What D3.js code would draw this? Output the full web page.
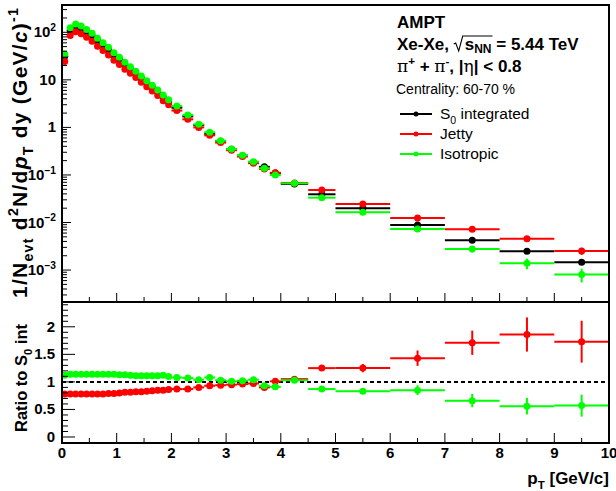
<!DOCTYPE html>
<html>
<head>
<meta charset="utf-8">
<script src="https://cdn.jsdelivr.net/npm/d3@7"></script>
<style>
body { margin: 0; background: #fff; }
svg { display: block; font-family: "Liberation Sans", Arial, sans-serif; }
text { white-space: pre; }
</style>
</head>
<body>
<div id="chart"></div>
<script>
// pT bin edges (GeV/c)
const binEdges = [0, 0.1, 0.2, 0.3, 0.4, 0.5, 0.6, 0.7, 0.8, 0.9, 1.0, 1.1, 1.2, 1.3, 1.4, 1.5, 1.6, 1.7, 1.8, 1.9, 2.0,
    2.2, 2.4, 2.6, 2.8, 3.0, 3.2, 3.4, 3.6, 3.8, 4.0, 4.5, 5, 6, 7, 8, 9, 10];

// spectra, 1/Nevt d2N/dpTdy
const s0Integrated = [31.3, 109.6, 131.6, 119.3, 100.9, 83.3, 65.4, 53.1, 42.4, 32.7, 26.4, 20.7, 16.9, 13.6, 10.8, 8.65, 6.91, 5.51, 4.29, 3.48,
    2.60, 1.70, 1.115, 0.731, 0.510, 0.348, 0.254, 0.183, 0.148, 0.1096, 0.0648, 0.0392, 0.0199, 0.00886, 0.00422, 0.00248, 0.00146];
const jetty = [24.4, 85.5, 102.6, 93.1, 78.7, 65.0, 51.0, 41.4, 33.5, 25.8, 21.1, 16.8, 13.7, 11.2, 8.86, 7.18, 5.80, 4.68, 3.65, 2.99,
    2.26, 1.48, 1.00, 0.680, 0.479, 0.331, 0.244, 0.177, 0.133, 0.111, 0.068, 0.0482, 0.0245, 0.01245, 0.0072, 0.00456, 0.00251];
const isotropic = [35.0, 125, 150, 136, 115, 95, 74.6, 60.5, 48.3, 37.3, 29.8, 23.4, 18.9, 15.1, 12.0, 9.6, 7.67, 6.12, 4.80, 3.83,
    2.81, 1.82, 1.16, 0.79, 0.525, 0.351, 0.259, 0.190, 0.138, 0.0997, 0.0667, 0.0333, 0.0164, 0.0073, 0.00277, 0.00139, 0.00081];

// relative stat. errors of the spectra
const s0RelErr = [0.005, 0.005, 0.005, 0.005, 0.005, 0.005, 0.005, 0.005, 0.005, 0.005, 0.005, 0.005, 0.005, 0.005, 0.005, 0.005, 0.005, 0.005, 0.005, 0.005,
    0.008, 0.008, 0.008, 0.01, 0.01, 0.01, 0.012, 0.012, 0.015, 0.015, 0.015, 0.02, 0.03, 0.04, 0.06, 0.08, 0.10];
const jettyRelErr = [0.005, 0.005, 0.005, 0.005, 0.005, 0.005, 0.005, 0.005, 0.005, 0.005, 0.005, 0.005, 0.005, 0.005, 0.005, 0.005, 0.005, 0.005, 0.005, 0.005,
    0.01, 0.01, 0.01, 0.012, 0.012, 0.015, 0.015, 0.015, 0.02, 0.02, 0.02, 0.025, 0.04, 0.06, 0.09, 0.12, 0.17];
const isotropicRelErr = [0.005, 0.005, 0.005, 0.005, 0.005, 0.005, 0.005, 0.005, 0.005, 0.005, 0.005, 0.005, 0.005, 0.005, 0.005, 0.005, 0.005, 0.005, 0.005, 0.005,
    0.01, 0.01, 0.01, 0.012, 0.012, 0.015, 0.015, 0.015, 0.02, 0.02, 0.02, 0.03, 0.05, 0.08, 0.15, 0.25, 0.32];

// ratios to S0 integrated
const jettyRatio = [0.78, 0.78, 0.78, 0.78, 0.78, 0.78, 0.78, 0.78, 0.79, 0.79, 0.80, 0.81, 0.81, 0.82, 0.82, 0.83, 0.84, 0.85, 0.85, 0.86,
    0.87, 0.87, 0.90, 0.93, 0.94, 0.95, 0.96, 0.97, 0.90, 1.01, 1.05, 1.25, 1.25, 1.43, 1.71, 1.86, 1.73];
const jettyRatioErr = [0.005, 0.005, 0.005, 0.005, 0.005, 0.005, 0.005, 0.005, 0.005, 0.005, 0.005, 0.005, 0.005, 0.005, 0.005, 0.005, 0.005, 0.005, 0.005, 0.01,
    0.01, 0.01, 0.01, 0.012, 0.012, 0.015, 0.015, 0.015, 0.02, 0.02, 0.02, 0.03, 0.075, 0.14, 0.22, 0.31, 0.38];
const isotropicRatio = [1.12, 1.14, 1.14, 1.14, 1.14, 1.14, 1.14, 1.14, 1.14, 1.14, 1.13, 1.13, 1.12, 1.11, 1.11, 1.11, 1.11, 1.11, 1.12, 1.10,
    1.08, 1.07, 1.04, 1.08, 1.03, 1.01, 1.02, 1.04, 0.93, 0.91, 1.03, 0.87, 0.83, 0.85, 0.66, 0.56, 0.57];
const isotropicRatioErr = [0.005, 0.005, 0.005, 0.005, 0.005, 0.005, 0.005, 0.005, 0.005, 0.005, 0.005, 0.005, 0.005, 0.005, 0.005, 0.005, 0.005, 0.005, 0.005, 0.01,
    0.01, 0.01, 0.01, 0.012, 0.012, 0.015, 0.015, 0.015, 0.02, 0.02, 0.02, 0.03, 0.05, 0.09, 0.12, 0.15, 0.20];

const seriesNames = ['S0 integrated', 'Jetty', 'Isotropic'];
const seriesColors = ['#000000', '#ff0000', '#00ff00'];

const W = 616, H = 491;
const xLeft = 62, xRight = 609;
const topY = 5, midY = 302, botY = 443;

const svg = d3.select('#chart').append('svg')
    .attr('width', W)
    .attr('height', H)
    .attr('viewBox', [0, 0, W, H]);

const x = d3.scaleLinear().domain([0, 10]).range([xLeft, xRight]);
const yTop = d3.scaleLog().domain([2.13e-4, 375]).range([midY, topY]);
const yRat = d3.scaleLinear().domain([-0.109, 2.45]).range([botY, midY]);

// rich text helper: parts = [text, 'sub'|'sup'|null, 'i'|'g'|null]
function rich(sel, parts, size) {
    let shift = 0;
    parts.forEach(([str, kind, style]) => {
        const target = kind === 'sub' ? size * 0.3 : kind === 'sup' ? -size * 0.42 : 0;
        const t = sel.append('tspan').text(str).attr('dy', target - shift);
        if (kind) t.attr('font-size', size * 0.68);
        if (style === 'i') t.attr('font-style', 'italic');
        if (style === 'g') t.attr('font-family', '"DejaVu Serif", "Liberation Serif", serif').attr('font-weight', 'normal');
        shift = target;
    });
    return sel;
}

const bins = binEdges.slice(0, -1).map((lo, i) => ({lo: lo, hi: binEdges[i + 1], c: (lo + binEdges[i + 1]) / 2}));

function drawPoints(g, y, values, errs, color, absErr) {
    const pts = bins.map((b, i) => ({...b, v: values[i], e: absErr ? errs[i] : errs[i] * values[i]}));
    const grp = g.append('g').attr('stroke', color).attr('fill', color);
    grp.selectAll('line.h').data(pts).join('line')
        .attr('class', 'h')
        .attr('x1', d => x(d.lo)).attr('x2', d => x(d.hi))
        .attr('y1', d => y(d.v)).attr('y2', d => y(d.v))
        .attr('stroke-width', 2);
    grp.selectAll('line.v').data(pts).join('line')
        .attr('class', 'v')
        .attr('x1', d => x(d.c)).attr('x2', d => x(d.c))
        .attr('y1', d => y(d.v - d.e)).attr('y2', d => y(d.v + d.e))
        .attr('stroke-width', 2);
    grp.selectAll('circle').data(pts).join('circle')
        .attr('cx', d => x(d.c)).attr('cy', d => y(d.v))
        .attr('r', 3.5).attr('stroke', 'none');
}

// ---------- top panel ----------
const topPanel = svg.append('g').attr('id', 'top');
svg.append('clipPath').attr('id', 'clipTop')
    .append('rect').attr('x', xLeft).attr('y', topY).attr('width', xRight - xLeft).attr('height', midY - topY);
const topData = topPanel.append('g').attr('clip-path', 'url(#clipTop)');
drawPoints(topData, yTop, s0Integrated, s0RelErr, seriesColors[0], false);
drawPoints(topData, yTop, jetty, jettyRelErr, seriesColors[1], false);
drawPoints(topData, yTop, isotropic, isotropicRelErr, seriesColors[2], false);

// log y ticks
const logTicks = yTop.ticks();
const isDecade = d => Math.abs(Math.log10(d) - Math.round(Math.log10(d))) < 1e-6;
topPanel.append('g').selectAll('line').data(logTicks).join('line')
    .attr('x1', xLeft)
    .attr('x2', d => isDecade(d) ? xLeft + 9 : xLeft + 5)
    .attr('y1', d => yTop(d)).attr('y2', d => yTop(d))
    .attr('stroke', '#000').attr('stroke-width', 1);
logTicks.filter(isDecade).forEach(d => {
    const e = Math.round(Math.log10(d));
    const t = topPanel.append('text')
        .attr('x', 56).attr('y', yTop(d) + 5)
        .attr('text-anchor', 'end')
        .attr('font-size', 15).attr('font-weight', 'bold');
    if (e === 0) t.text('1');
    else if (e === 1) t.text('10');
    else rich(t, [['10', null], [e < 0 ? '\u2212' + (-e) : String(e), 'sup']], 15);
});

// x ticks top panel (no labels)
const xMinor = d3.range(0, 10.01, 0.5);
topPanel.append('g').selectAll('line').data(xMinor).join('line')
    .attr('x1', d => x(d)).attr('x2', d => x(d))
    .attr('y1', midY)
    .attr('y2', d => d % 1 === 0 ? midY - 9 : midY - 5)
    .attr('stroke', '#000').attr('stroke-width', 1);

topPanel.append('rect')
    .attr('x', xLeft).attr('y', topY)
    .attr('width', xRight - xLeft).attr('height', midY - topY)
    .attr('fill', 'none').attr('stroke', '#000').attr('stroke-width', 2);

// y title
rich(topPanel.append('text')
    .attr('transform', `translate(27,8) rotate(-90)`)
    .attr('text-anchor', 'end')
    .attr('textLength', 290).attr('lengthAdjust', 'spacing')
    .attr('font-size', 21).attr('font-weight', 'bold'),
    [['1/N'], ['evt', 'sub'], [' d'], ['2', 'sup'], ['N/d'], ['p', null, 'i'], ['T', 'sub'], [' dy (GeV/'], ['c', null, 'i'], [')'], ['-1', 'sup']], 21);

// header text
const info = svg.append('g').attr('id', 'info').attr('font-weight', 'bold').attr('font-size', 17);
info.append('text').attr('x', 397).attr('y', 28).text('AMPT');
const line2 = info.append('text').attr('x', 397).attr('y', 50);
line2.append('tspan').text('Xe-Xe, ');
line2.append('tspan').attr('dx', 11).text('s');
line2.append('tspan').attr('font-size', 12).attr('dy', 3).text('NN');
line2.append('tspan').attr('dy', -3).text(' = 5.44 TeV');
{
    const node = line2.node();
    const sx = node.getStartPositionOfChar(7).x;
    const ex = node.getEndPositionOfChar(9).x;
    const by = 50;
    info.append('path')
        .attr('d', `M${sx - 11},${by - 6} L${sx - 9},${by - 7} L${sx - 6},${by + 1} L${sx - 2},${by - 14} L${ex + 1},${by - 14}`)
        .attr('fill', 'none').attr('stroke', '#000').attr('stroke-width', 1.1);
}
rich(info.append('text').attr('x', 397).attr('y', 72).attr('font-size', 17),
    [['\u03c0', null, 'g'], ['+', 'sup'], [' + '], ['\u03c0', null, 'g'], ['-', 'sup'], [', |'], ['\u03b7', null, 'g'], ['| < 0.8']], 17);

svg.append('text').attr('x', 396).attr('y', 94)
    .attr('font-size', 14).text('Centrality: 60-70 %');

// legend
const legend = svg.append('g').attr('id', 'legend');
seriesNames.forEach((name, i) => {
    const ly = 114 + i * 20;
    const lg = legend.append('g');
    lg.append('line').attr('x1', 400).attr('x2', 432).attr('y1', ly).attr('y2', ly)
        .attr('stroke', seriesColors[i]).attr('stroke-width', 2);
    lg.append('circle').attr('cx', 416).attr('cy', ly).attr('r', 2.5).attr('fill', seriesColors[i]);
    const t = lg.append('text').attr('x', 440).attr('y', ly + 5).attr('font-size', 15.5);
    if (i === 0) rich(t, [['S'], ['0', 'sub'], [' integrated']], 15.5);
    else t.text(name);
});

// ---------- ratio panel ----------
const botPanel = svg.append('g').attr('id', 'bottom');
botPanel.append('line')
    .attr('x1', xLeft).attr('x2', xRight)
    .attr('y1', yRat(1)).attr('y2', yRat(1))
    .attr('stroke', '#000').attr('stroke-width', 2).attr('stroke-dasharray', '4,3');
drawPoints(botPanel, yRat, jettyRatio, jettyRatioErr, seriesColors[1], true);
drawPoints(botPanel, yRat, isotropicRatio, isotropicRatioErr, seriesColors[2], true);

const ratTicks = yRat.ticks(25);
botPanel.append('g').selectAll('line').data(ratTicks).join('line')
    .attr('x1', xLeft)
    .attr('x2', d => Math.abs(d * 2 - Math.round(d * 2)) < 1e-6 ? xLeft + 13 : xLeft + 6)
    .attr('y1', d => yRat(d)).attr('y2', d => yRat(d))
    .attr('stroke', '#000').attr('stroke-width', 1);
botPanel.append('g').selectAll('text').data([0, 0.5, 1, 1.5, 2]).join('text')
    .attr('x', 55).attr('y', d => yRat(d) + 5)
    .attr('text-anchor', 'end')
    .attr('font-size', 15).attr('font-weight', 'bold')
    .text(d => d);

botPanel.append('g').selectAll('line').data(xMinor).join('line')
    .attr('x1', d => x(d)).attr('x2', d => x(d))
    .attr('y1', botY)
    .attr('y2', d => d % 1 === 0 ? botY - 10 : botY - 5)
    .attr('stroke', '#000').attr('stroke-width', 1);
botPanel.append('g').selectAll('text').data(x.ticks(10)).join('text')
    .attr('x', d => x(d)).attr('y', 458)
    .attr('text-anchor', 'middle')
    .attr('font-size', 15).attr('font-weight', 'bold')
    .text(d => d);

botPanel.append('rect')
    .attr('x', xLeft).attr('y', midY)
    .attr('width', xRight - xLeft).attr('height', botY - midY)
    .attr('fill', 'none').attr('stroke', '#000').attr('stroke-width', 2);

rich(botPanel.append('text')
    .attr('transform', `translate(27,324) rotate(-90)`)
    .attr('text-anchor', 'end')
    .attr('font-size', 16.5).attr('font-weight', 'bold'),
    [['Ratio to S'], ['0', 'sub'], [' int']], 16.5);

rich(botPanel.append('text')
    .attr('x', 609).attr('y', 484)
    .attr('text-anchor', 'end')
    .attr('font-size', 17).attr('font-weight', 'bold'),
    [['p'], ['T', 'sub'], [' [GeV/c]']], 17);
</script>
</body>
</html>
